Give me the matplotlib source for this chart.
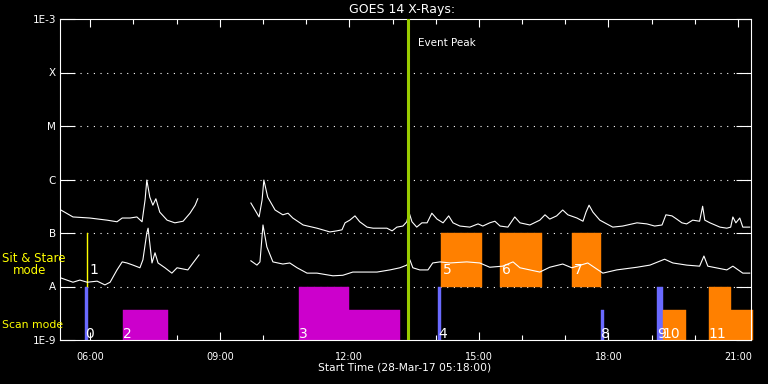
import numpy as np
import matplotlib
matplotlib.use('Agg')
import matplotlib.pyplot as plt
from matplotlib.ticker import NullLocator

# ---------------- data (time in hours of 28-Mar-17, flux as log10 W/m^2) ----------------
nan = np.nan

# GOES long channel (1-8 A)
long_t = [5.32, 5.60, 5.99, 6.39, 6.62, 6.74, 6.92, 7.08, 7.20, 7.27, 7.31, 7.38, 7.45, 7.52,
          7.61, 7.78, 7.96, 8.15, 8.31, 8.43, 8.49, nan,
          9.72, 9.91, 9.98, 10.02, 10.11, 10.28, 10.46, 10.58, 10.69, 10.93, 11.25, 11.55,
          11.71, 11.83, 11.90, 12.01, 12.13, 12.24, 12.41, 12.55, 12.87, 12.99, 13.10, 13.24,
          13.33, 13.38, 13.45, 13.56, 13.68, 13.80, 13.91, 14.03, 14.17, 14.30, 14.40, 14.56,
          14.79, 14.98, 15.09, 15.25, 15.37, 15.49, 15.67, 15.83, 15.95, 16.18, 16.41, 16.53,
          16.64, 16.80, 16.94, 17.06, 17.27, 17.41, 17.48, 17.55, 17.64, 17.80, 17.96, 18.10,
          18.33, 18.66, 18.89, 19.07, 19.24, 19.33, 19.47, 19.58, 19.70, 19.81, 19.95, 20.11,
          20.18, 20.23, 20.35, 20.58, 20.74, 20.83, 20.88, 20.95, 21.04, 21.11, 21.27]
long_log = [-6.57, -6.70, -6.72, -6.76, -6.79, -6.72, -6.72, -6.70, -6.79, -6.38, -6.01, -6.33,
            -6.48, -6.36, -6.61, -6.76, -6.81, -6.78, -6.63, -6.48, -6.36, nan,
            -6.44, -6.70, -6.38, -6.01, -6.33, -6.57, -6.66, -6.63, -6.72, -6.85, -6.91, -6.98,
            -6.96, -6.94, -6.81, -6.76, -6.68, -6.79, -6.89, -6.91, -6.91, -6.96, -6.89, -6.87,
            -6.79, -6.61, -6.79, -6.89, -6.81, -6.81, -6.63, -6.74, -6.81, -6.68, -6.81, -6.87,
            -6.89, -6.83, -6.87, -6.81, -6.78, -6.87, -6.89, -6.70, -6.81, -6.85, -6.76, -6.66,
            -6.74, -6.68, -6.57, -6.66, -6.72, -6.78, -6.61, -6.48, -6.61, -6.76, -6.83, -6.89,
            -6.87, -6.81, -6.83, -6.87, -6.85, -6.66, -6.68, -6.74, -6.81, -6.83, -6.76, -6.78,
            -6.50, -6.76, -6.81, -6.89, -6.91, -6.89, -6.70, -6.81, -6.72, -6.89, -6.89]

# GOES short channel (0.5-4 A)
short_t = [5.32, 5.46, 5.60, 5.76, 5.93, 6.16, 6.34, 6.46, 6.62, 6.74, 6.85, 6.99, 7.15, 7.22,
           7.31, 7.34, 7.43, 7.50, 7.57, 7.73, 7.89, 8.01, 8.26, 8.38, 8.52, nan,
           9.72, 9.86, 9.93, 10.00, 10.09, 10.23, 10.46, 10.62, 10.79, 11.02, 11.25, 11.62,
           11.85, 12.08, 12.64, 12.94, 13.17, 13.33, 13.40, 13.47, 13.63, 13.82, 13.93, 14.10,
           14.33, 14.72, 15.02, 15.25, 15.55, 15.79, 15.95, 16.41, 16.64, 16.94, 17.15, 17.52,
           17.87, 18.19, 18.66, 18.96, 19.30, 19.49, 19.81, 20.11, 20.21, 20.30, 20.74, 20.88,
           21.11, 21.27]
short_log = [-7.84, -7.88, -7.92, -7.88, -7.92, -7.90, -7.97, -7.92, -7.69, -7.54, -7.56, -7.60,
             -7.65, -7.50, -7.00, -6.91, -7.56, -7.37, -7.56, -7.65, -7.75, -7.65, -7.69, -7.56,
             -7.41, nan,
             -7.52, -7.60, -7.54, -6.85, -7.26, -7.54, -7.58, -7.56, -7.65, -7.75, -7.75, -7.80,
             -7.79, -7.73, -7.73, -7.69, -7.65, -7.60, -7.50, -7.65, -7.69, -7.69, -7.56, -7.54,
             -7.56, -7.54, -7.56, -7.64, -7.62, -7.54, -7.65, -7.73, -7.64, -7.58, -7.65, -7.56,
             -7.75, -7.69, -7.64, -7.60, -7.49, -7.56, -7.60, -7.62, -7.43, -7.62, -7.69, -7.62,
             -7.75, -7.75]

event_peak = 13.36

# observing blocks: scan mode (1E-9 .. 1E-8 band)
scan_start = [5.879, 6.758, 10.832, 11.990, 14.050, 17.824, 19.120, 19.259, 20.323, 20.833]
scan_end   = [5.948, 7.800, 11.990, 13.170, 14.119, 17.893, 19.259, 19.791, 20.833, 21.342]
scan_top   = [-8.0, -8.44, -8.0, -8.44, -8.0, -8.44, -8.0, -8.44, -8.0, -8.44]
scan_kind  = ['b', 'm', 'm', 'm', 'b', 'b', 'b', 'o', 'o', 'o']
scan_label = ['0', '2', '3', '', '4', '8', '9', '10', '11', '']

# sit & stare (1E-8 .. 1E-7 band)
ss_start = [5.925, 14.119, 15.485, 17.152]
ss_end   = [5.945, 15.068, 16.457, 17.824]
ss_kind  = ['y', 'o', 'o', 'o']
ss_label = ['1', '5', '6', '7']

ylevels = [1e-9, 1e-8, 1e-7, 1e-6, 1e-5, 1e-4, 1e-3]
ylabels = ['1E-9', 'A', 'B', 'C', 'M', 'X', '1E-3']
xticks = [6, 9, 12, 15, 18, 21]
xlabels = ['06:00', '09:00', '12:00', '15:00', '18:00', '21:00']

kind_color = {'b': '#6a6aff', 'm': '#cc00cc', 'o': '#ff8000', 'y': '#ffff00'}

# ---------------- figure ----------------
W, H = 768, 384
fig = plt.figure(figsize=(W / 100, H / 100), dpi=100, facecolor='black')
ax = fig.add_axes([60 / W, 1 - 340 / H, 691 / W, 321 / H])
ax.set_facecolor('black')
ax.set_yscale('log')
ax.set_xlim(5.3, 21.3)
ax.set_ylim(1e-9, 1e-3)

# dotted class levels
for lv in ylevels[1:-1]:
    ax.axhline(lv, color='white', lw=0.8, ls=(0, (1, 5)), zorder=1)

# observing-mode blocks
for s, e, top, k in zip(scan_start, scan_end, scan_top, scan_kind):
    ax.bar(s, 10 ** top - 1e-9, width=e - s, bottom=1e-9, align='edge',
           color=kind_color[k], edgecolor=kind_color[k], lw=0.3, zorder=2, clip_on=False)
for s, e, k in zip(ss_start, ss_end, ss_kind):
    ax.bar(s, 1e-7 - 1e-8, width=e - s, bottom=1e-8, align='edge',
           color=kind_color[k], edgecolor=kind_color[k], lw=0.3, zorder=2)

# light curves
ax.plot(long_t, 10 ** np.array(long_log), color='white', lw=0.8, zorder=3)
ax.plot(short_t, 10 ** np.array(short_log), color='white', lw=0.8, zorder=3)

# block numbers
for s, lab in zip(scan_start, scan_label):
    if lab:
        ax.annotate(lab, xy=(s, 1e-9), xytext=(0, 2), textcoords='offset pixels',
                    color='white', fontsize=10, ha='left', va='baseline', zorder=4)
for s, lab in zip(ss_start, ss_label):
    ax.annotate(lab, xy=(s, 1e-8), xytext=(2, 12), textcoords='offset pixels',
                color='white', fontsize=10, ha='left', va='baseline', zorder=4)

# event peak
ax.axvline(event_peak, color='#99cc00', lw=2.2, zorder=5)
ax.annotate('Event Peak', xy=(event_peak, 1e-3), xytext=(10, -24), textcoords='offset pixels',
            color='white', fontsize=7.5, ha='left', va='center')

# axes styling
for sp in ax.spines.values():
    sp.set_color('white')
    sp.set_linewidth(0.8)
ax.set_xticks(xticks, xlabels)
ax.set_xticks(np.arange(6, 22), minor=True)
ax.tick_params(axis='x', which='both', direction='in', top=True, bottom=True,
               colors='white', labelsize=7, pad=9, width=0.8)
ax.tick_params(axis='x', which='major', length=6)
ax.tick_params(axis='x', which='minor', length=3.5)
ax.set_yticks(ylevels, ylabels)
ax.yaxis.set_minor_locator(NullLocator())
ax.tick_params(axis='y', which='major', direction='in', left=True, right=True,
               length=11, width=0.8, colors='white', labelsize=7.5, pad=3)

def fx(px):
    return px / W

def fy(py):
    return 1 - py / H

fig.text(fx(402), fy(10), 'GOES 14 X-Rays:', color='white', fontsize=9, ha='center', va='center')
fig.text(fx(405), fy(367), 'Start Time (28-Mar-17 05:18:00)', color='white', fontsize=7.7,
         ha='center', va='center')
fig.text(fx(2), fy(258), 'Sit & Stare', color='yellow', fontsize=8.5, ha='left', va='center')
fig.text(fx(13), fy(271), 'mode', color='yellow', fontsize=8.5, ha='left', va='center')
fig.text(fx(2), fy(325), 'Scan mode', color='yellow', fontsize=7.8, ha='left', va='center')

fig.savefig('out.png', dpi=100, facecolor='black')
